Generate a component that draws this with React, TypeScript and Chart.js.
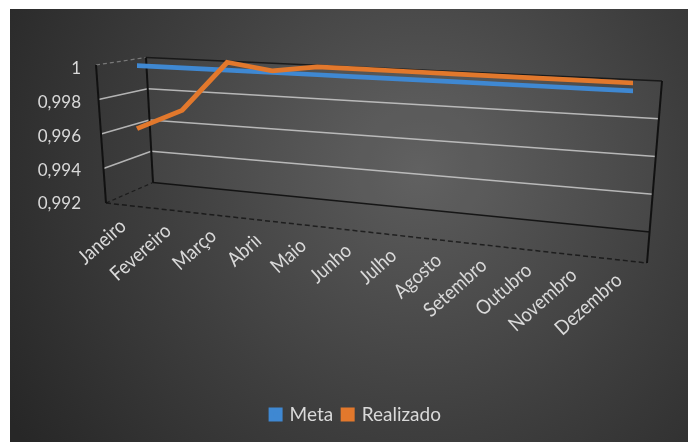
import { useEffect, useRef } from 'react';
import { Chart, registerables } from 'chart.js';

Chart.register(...registerables);

// ---- data ----
const months = ['Janeiro', 'Fevereiro', 'Março', 'Abril', 'Maio', 'Junho', 'Julho', 'Agosto', 'Setembro', 'Outubro', 'Novembro', 'Dezembro'];
const meta = [0.9995, 0.9995, 0.9995, 0.9995, 0.9995, 0.9995, 0.9995, 0.9995, 0.9995, 0.9995, 0.9995, 0.9995];
const realizado = [0.9955, 0.9968, 1, 0.9996, 1, 1, 1, 1, 1, 1, 1, 1];
const yTicks = [0.992, 0.994, 0.996, 0.998, 1];
const yTickLabels = ['0,992', '0,994', '0,996', '0,998', '1'];

const FONT = 'Lato, "Open Sans", sans-serif';
const TEXT = '#d9d9d9';
const BLUE = '#3f88d2';
const ORANGE = '#e2782c';

// ---- 3D frame geometry (page px) ----
const BL0 = [146, 57.5], BL1 = [153, 182.5];
const BR0 = [662, 81], BR1 = [650, 232];
const F0 = [96, 65], F1 = [106, 203];
const FR1 = [647, 263];
const LINE_X0 = 137, LINE_X1 = 633, LINE_TOP = 57.7, LINE_RANGE = 126, LINE_K = 0.051;
const LABEL_SKEW = 0.109;

const lerp = (a: number[], b: number[], t: number) => [a[0] + (b[0] - a[0]) * t, a[1] + (b[1] - a[1]) * t];

const frame3d = {
  id: 'frame3d',
  beforeDraw(chart: any) {
    const { ctx, width, height } = chart;
    ctx.save();
    ctx.fillStyle = '#ffffff';
    ctx.fillRect(0, 0, width, height);
    const g = ctx.createRadialGradient(420, 170, 0, 420, 170, 480);
    g.addColorStop(0, '#5c5c5c');
    g.addColorStop(0.55, '#3e3e3e');
    g.addColorStop(1, '#272727');
    ctx.fillStyle = g;
    ctx.fillRect(10, 9, width - 10, height - 9);
    ctx.restore();
  },
  beforeDatasetsDraw(chart: any) {
    const { ctx, chartArea: ca, scales } = chart;
    const ys = scales.y;
    const frac = (v: number) => (ys.getPixelForValue(v) - ca.top) / (ca.bottom - ca.top);
    ctx.save();
    ctx.fillStyle = 'rgba(255,255,255,0.035)';
    ctx.beginPath();
    ctx.moveTo(BL0[0], BL0[1]); ctx.lineTo(BR0[0], BR0[1]); ctx.lineTo(BR1[0], BR1[1]); ctx.lineTo(BL1[0], BL1[1]);
    ctx.closePath(); ctx.fill();
    const seg = (p: number[], q: number[], color: string, w: number, dash: number[] = []) => {
      ctx.beginPath();
      ctx.setLineDash(dash);
      ctx.strokeStyle = color; ctx.lineWidth = w;
      ctx.moveTo(p[0], p[1]); ctx.lineTo(q[0], q[1]);
      ctx.stroke();
    };
    ys.ticks.forEach((t: any) => {
      const f = frac(t.value);
      if (f > 0.01 && f < 0.99) {
        const bl = lerp(BL0, BL1, f), br = lerp(BR0, BR1, f), fr = lerp(F0, F1, f);
        seg(fr, bl, 'rgba(210,210,210,0.8)', 1.5);
        seg(bl, br, 'rgba(210,210,210,0.8)', 1.5);
      }
    });
    seg(F0, BL0, 'rgba(200,200,200,0.45)', 1.2, [4, 3]);
    seg(BL0, BR0, 'rgba(15,15,15,0.8)', 1.5);
    seg(BL1, BR1, 'rgba(10,10,10,0.85)', 1.5);
    seg(F1, BL1, 'rgba(15,15,15,0.7)', 1.2, [4, 3]);
    seg(F1, FR1, 'rgba(15,15,15,0.75)', 1.5, [5, 3]);
    seg(F0, F1, '#111', 2);
    seg(BL0, BL1, '#111', 2);
    seg(BR0, FR1, '#111', 2);
    ctx.setLineDash([]);
    ctx.restore();
    ctx.save();
    const sx = (LINE_X1 - LINE_X0) / (ca.right - ca.left);
    const sy = LINE_RANGE / (ca.bottom - ca.top);
    ctx.transform(sx, LINE_K * sx, 0, sy, LINE_X0 - sx * ca.left, LINE_TOP - sy * ca.top - LINE_K * sx * ca.left);
  },
  afterDatasetsDraw(chart: any) {
    const { ctx, chartArea: ca } = chart;
    ctx.restore();
    ctx.save();
    ctx.transform(1, LABEL_SKEW, 0, 1, 0, -LABEL_SKEW * ca.left);
  },
  afterDraw(chart: any) {
    chart.ctx.restore();
  },
};

export default function App() {
  const ref = useRef<HTMLCanvasElement>(null);
  useEffect(() => {
    if (!ref.current) return;
    const chart = new Chart(ref.current, {
      type: 'line',
      data: {
        labels: months,
        datasets: [
          { label: 'Meta', data: meta, borderColor: BLUE, backgroundColor: BLUE, borderWidth: 5, pointRadius: 0, tension: 0, clip: false, order: 2 } as any,
          { label: 'Realizado', data: realizado, borderColor: ORANGE, backgroundColor: ORANGE, borderWidth: 5, pointRadius: 0, tension: 0, clip: false, order: 1 } as any,
        ],
      },
      options: {
        responsive: false,
        animation: false,
        events: [],
        layout: { padding: { left: 30, right: 6, top: 87, bottom: 8 } },
        plugins: {
          tooltip: { enabled: false },
          legend: {
            position: 'bottom',
            labels: {
              color: TEXT,
              font: { family: FONT, size: 19 },
              boxWidth: 9,
              boxHeight: 9,
              padding: 10,
              sort: (a: any, b: any) => a.datasetIndex - b.datasetIndex,
            },
          },
        },
        scales: {
          x: {
            grid: { display: false, drawTicks: false },
            border: { display: false },
            offset: false,
            ticks: {
              color: TEXT,
              font: { family: FONT, size: 19 },
              minRotation: 45,
              maxRotation: 45,
              autoSkip: false,
              padding: -7,
              z: 1,
            },
            afterFit: (s: any) => { s.height = 173; },
          },
          y: {
            min: 0.992,
            max: 1,
            grid: { display: false, drawTicks: false },
            border: { display: false },
            afterBuildTicks: (s: any) => { s.ticks = yTicks.map((v) => ({ value: v })); },
            ticks: {
              color: TEXT,
              font: { family: FONT, size: 17 },
              padding: 42,
              labelOffset: -18,
              callback: (v: any) => { const i = yTicks.indexOf(Number(v)); return i >= 0 ? yTickLabels[i] : ''; },
            },
            afterFit: (s: any) => { s.width = 93; },
          },
          yRight: {
            position: 'right',
            display: true,
            grid: { display: false, drawTicks: false },
            border: { display: false },
            ticks: { display: false },
            afterFit: (s: any) => { s.width = 63; },
          },
        },
      },
      plugins: [frame3d],
    });
    return () => chart.destroy();
  }, []);
  return (
    <canvas
      ref={ref}
      width={688}
      height={442}
      style={{ position: 'absolute', left: 0, top: 0, width: 688, height: 442, display: 'block' }}
    />
  );
}
